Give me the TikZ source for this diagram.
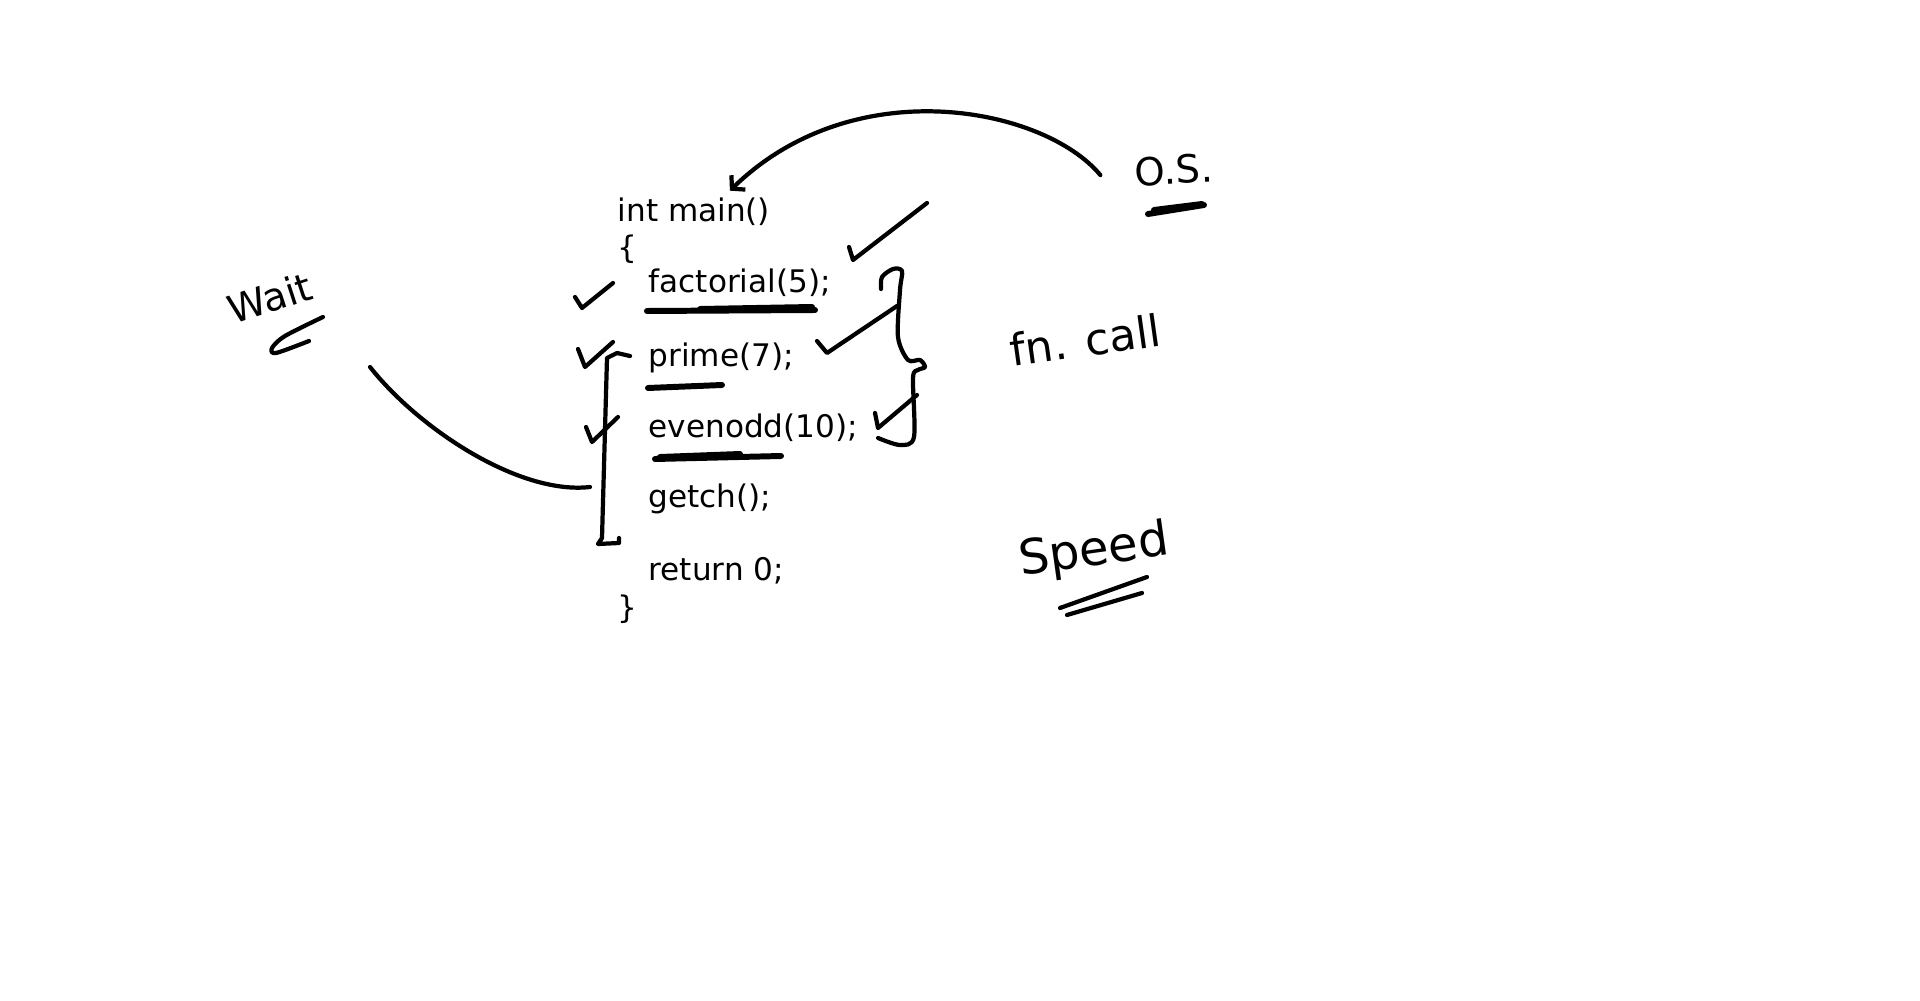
\documentclass[tikz,border=0pt]{standalone}
\usepackage{fontspec}
\setmainfont{DejaVu Sans}
\usepackage{xcolor}
\usepackage{tikz}
\usetikzlibrary{arrows.meta,positioning,calc}
\definecolor{inkblack}{RGB}{0,0,0}

\begin{document}
\begin{tikzpicture}[
  x=0.1mm, y=-0.1mm,
  code/.style={anchor=base west, inner sep=0pt, text=inkblack,
               font=\fontsize{8.85pt}{10pt}\selectfont},
  note/.style={inner sep=0pt, text=inkblack},
  pen/.style={draw=inkblack, line width=1.2pt, line cap=round, line join=round},
  ul/.style={pen, line width=1.7pt},
  arrow/.style={pen, -{Straight Barb[length=0.9mm, width=2mm]}}
]
\fill[white] (0,0) rectangle (1920,1001);
\useasboundingbox (0,0) rectangle (1920,1001);

% --- Code ---
\node[code] (main) at (617,222) {int main()};
\node[code] (lbr) at (617,259) {\{};
\node[code] (fact) at (648,293) {factorial(5);};
\node[code] (prime) at (648,367) {prime(7);};
\node[code] (evod) at (648,437) {evenodd(10);};
\node[code] (getch) at (648,508) {getch();};
\node[code] (ret) at (648,580) {return 0;};
\node[code] (rbr) at (617,618) {\}};

% --- Notes ---
\node[note, rotate=18, font=\fontsize{11pt}{13pt}\selectfont] (wait) at (270,298) {Wait};
\node[note, rotate=3, font=\fontsize{11pt}{13pt}\selectfont] (os) at (1174,170) {O.S.};
\node[note, rotate=8, font=\fontsize{12.5pt}{14pt}\selectfont] (fncall) at (1085,340) {fn. call};
\node[note, rotate=8, font=\fontsize{13.7pt}{16pt}\selectfont] (speed) at (1094,552) {Speed};

% --- Underlines ---
\draw[ul] (647,311) -- (815,310);
\draw[ul] (700,309) -- (812,307);
\draw[ul] (648,388) -- (722,385);
\draw[ul] (655,459) -- (781,456);
\draw[ul] (660,457) -- (740,454);
\draw[ul] (1148,214) -- (1204,205);
\draw[ul] (1154,210) -- (1202,204);
\draw[pen] (1060,608) -- (1147,577);
\draw[pen] (1067,615) -- (1142,593);
\draw[pen] plot[smooth] coordinates {(323,317) (285,336) (272,348) (276,353) (309,341)};

% --- Ticks ---
\draw[pen] (575,297) -- (582,308) -- (613,283);
\draw[pen] (578,349) -- (585,367) -- (613,342);
\draw[pen] (586,427) -- (592,442) -- (618,417);
\draw[pen] (849,247) -- (853,260) -- (927,203);
\draw[pen] (817,341) -- (827,353) -- (897,306);
\draw[pen] (875,413) -- (878,428) -- (917,395);

% --- Brackets ---
\draw[pen] (630,356) -- (617,353) -- (607,358) -- (602,538) -- (598,544) -- (619,543) -- (619,538);
\draw[pen] plot[smooth] coordinates {(881,289) (882,277) (893,269) (902,271) (900,290)
  (898,337) (908,360) (920,360) (925,367) (918,370) (913,378) (914,437) (900,445) (878,438)};

% --- Arrows ---
\coordinate (brk) at (590,487);
\draw[arrow] ([shift={(-34,3)}]os.west) .. controls (1045,108) and (855,69) .. ([shift={(36,-7)}]main.north);
\draw[pen] ([shift={(100,69)}]wait.center) .. controls (420,430) and (520,495) .. (brk);

\end{tikzpicture}
\end{document}
